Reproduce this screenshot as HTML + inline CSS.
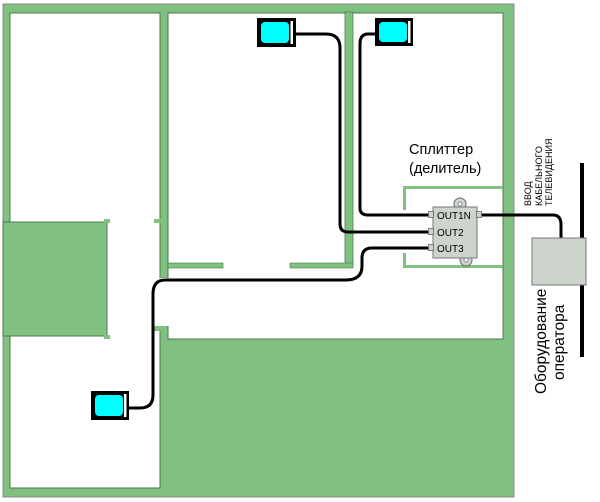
<!DOCTYPE html>
<html><head><meta charset="utf-8"><style>
html,body{margin:0;padding:0;background:#fff;}
svg{display:block;}
text{font-family:"Liberation Sans","DejaVu Sans",sans-serif;}
</style></head><body>
<svg width="600" height="502" viewBox="0 0 600 502" xmlns="http://www.w3.org/2000/svg">
<rect x="3" y="4" width="511" height="493" fill="#80c080" stroke="#888" stroke-width="1"/>
<rect x="10" y="13" width="150" height="475" fill="#fff" stroke="#4d7a4d" stroke-width="1"/>
<rect x="3" y="222" width="104" height="114" fill="#80c080" stroke="#4d7a4d" stroke-width="1"/>
<rect x="3.5" y="223" width="6" height="112" fill="#80c080"/>
<rect x="104" y="219" width="6" height="4" fill="#80c080"/>
<rect x="104" y="335" width="6" height="4" fill="#80c080"/>
<rect x="154" y="219" width="7" height="4" fill="#80c080"/>
<rect x="154" y="326" width="7" height="5" fill="#80c080"/>
<rect x="168" y="13" width="335" height="326" fill="#fff" stroke="#4d7a4d" stroke-width="1"/>
<rect x="159" y="278" width="10" height="48" fill="#fff"/>
<rect x="345" y="12" width="8" height="253" fill="#80c080" stroke="#4d7a4d" stroke-width="0.8"/>
<rect x="168" y="263" width="55" height="5" fill="#80c080" stroke="#4d7a4d" stroke-width="0.6"/>
<rect x="290" y="263" width="63" height="5" fill="#80c080" stroke="#4d7a4d" stroke-width="0.6"/>
<path d="M404.5 210 V187.5 H503" fill="none" stroke="#80c080" stroke-width="3"/>
<path d="M404.5 253 V266.5 H503" fill="none" stroke="#80c080" stroke-width="3"/>
<g fill="none" stroke="#000" stroke-width="3">
<path d="M296 34 H326 Q340 34 340 48 V224 Q340 232 348 232 H430"/>
<path d="M375 34 H368 Q360 34 360 44 V208 Q360 215 368 215 H430"/>
<path d="M430 248 H372 Q362 248 362 258 V266 Q362 280 346 280 H165 Q153 280 153 294 V395 Q153 408 140 408 H129"/>
<path d="M480 215 H553 Q561 215 561 225 V238"/>
</g>
<rect x="580" y="163" width="4" height="75" fill="#000"/>
<rect x="580" y="285" width="4" height="72" fill="#000"/>
<rect x="532" y="238" width="54" height="47" fill="#ccd4cc" stroke="#777" stroke-width="1"/>
<circle cx="460" cy="204" r="6" fill="#ccd4cc" stroke="#666"/><circle cx="460" cy="204" r="2" fill="#fff" stroke="#666" stroke-width="0.7"/>
<circle cx="466" cy="260" r="6" fill="#ccd4cc" stroke="#666"/><circle cx="466" cy="260" r="2" fill="#fff" stroke="#666" stroke-width="0.7"/>
<rect x="433" y="207" width="44" height="51" fill="#ccd4cc" stroke="#777"/>
<g fill="#ccd4cc" stroke="#666" stroke-width="0.8">
<rect x="428.5" y="211.5" width="5" height="6"/>
<rect x="428.5" y="228.5" width="5" height="6"/>
<rect x="428.5" y="244.5" width="5" height="6"/>
<rect x="476.5" y="211.5" width="5" height="6"/>
</g>
<g font-size="10" fill="#000">
<text x="437" y="219">OUT1N</text>
<text x="437" y="236">OUT2</text>
<text x="437" y="252">OUT3</text>
</g>
<rect x="257" y="18" width="39" height="29" fill="#000"/><rect x="261" y="22" width="28" height="21" rx="4" fill="#00ffff"/><rect x="290.5" y="21" width="2.5" height="23" fill="#fff"/>
<rect x="375" y="18" width="38" height="28" fill="#000"/><rect x="379" y="22" width="28" height="20" rx="4" fill="#00ffff"/><rect x="408" y="21" width="2.5" height="22" fill="#fff"/>
<rect x="91" y="391" width="38" height="29" fill="#000"/><rect x="95" y="395" width="28" height="21" rx="4" fill="#00ffff"/><rect x="124" y="394" width="2.5" height="23" fill="#fff"/>
<text x="409" y="154" font-size="14.5">Сплиттер</text>
<text x="409" y="173" font-size="14.5">(делитель)</text>
<g font-size="9" transform="rotate(-90)">
<text x="-206" y="531">ВВОД</text>
<text x="-206" y="542">КАБЕЛЬНОГО</text>
<text x="-206" y="552">ТЕЛЕВИДЕНИЯ</text>
</g>
<g font-size="15.5" transform="rotate(-90)">
<text x="-394" y="546">Оборудование</text>
<text x="-380" y="564">оператора</text>
</g>
</svg>
</body></html>
